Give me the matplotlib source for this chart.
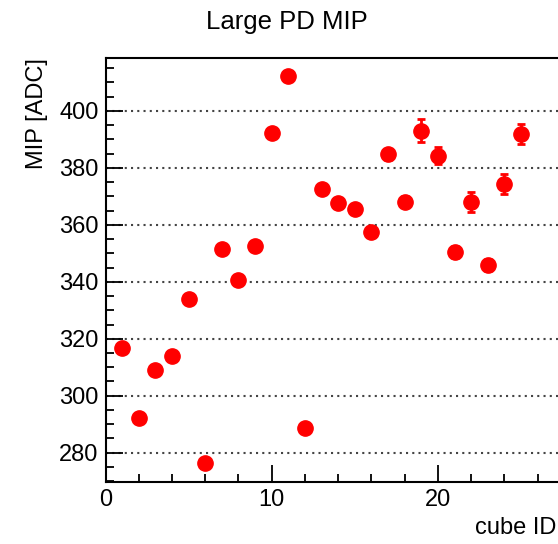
import numpy as np
import matplotlib.pyplot as plt
from matplotlib.ticker import MultipleLocator, FixedLocator

# MIP per cube
cube_id = np.arange(1, 26)
mip = [316.6, 292.3, 309.0, 314.0, 333.8, 276.5, 351.5, 340.8, 352.7, 392.2,
       412.1, 288.5, 372.6, 367.6, 365.6, 357.6, 384.8, 368.1, 393.0, 384.2,
       350.5, 367.9, 345.9, 374.3, 391.9]
mip_err = [1.5, 1.5, 1.5, 1.5, 1.5, 1.5, 1.5, 1.5, 1.5, 1.5,
           1.5, 1.5, 1.5, 1.5, 1.5, 1.5, 2.0, 2.0, 4.0, 3.0,
           2.0, 3.5, 2.0, 3.5, 3.5]

plt.rcParams['font.family'] = ['Liberation Sans', 'DejaVu Sans']

fig = plt.figure(figsize=(5.58, 5.44), dpi=100)
ax = fig.add_axes([105.5 / 558, 1 - 481.7 / 544, 30 * 16.62 / 558, (481.7 - 57.7) / 544])

ax.errorbar(cube_id, mip, yerr=mip_err, fmt='o', color='red', ecolor='red',
            markersize=11, elinewidth=2, capsize=3, capthick=2, zorder=3)

ax.set_xlim(0, 30)
ax.set_ylim(269.8, 418.7)
# only the labels that fall inside the visible part of the picture
ax.xaxis.set_major_locator(FixedLocator([0, 10, 20]))
ax.xaxis.set_minor_locator(MultipleLocator(2))
ax.yaxis.set_major_locator(MultipleLocator(20))
ax.yaxis.set_minor_locator(MultipleLocator(5))
ax.tick_params(which='both', direction='in', labelsize=17, width=1.3,
               top=False, right=False)
ax.tick_params(which='major', length=12.5, pad=5)
ax.tick_params(which='minor', length=6)
ax.yaxis.grid(True, which='major', color='#444444', linestyle=(0, (1, 2)), linewidth=1.5)
for s in ax.spines.values():
    s.set_linewidth(1.5)

fig.suptitle('Large PD MIP', x=0.515, y=1 - 22 / 544, va='center', fontsize=18.5)
ax.set_ylabel('MIP [ADC]', fontsize=17, loc='top', labelpad=8)
fig.text(556 / 558, 1 - 528 / 544, 'cube ID', ha='right', va='center', fontsize=17)

fig.savefig('out.png', dpi=100)
